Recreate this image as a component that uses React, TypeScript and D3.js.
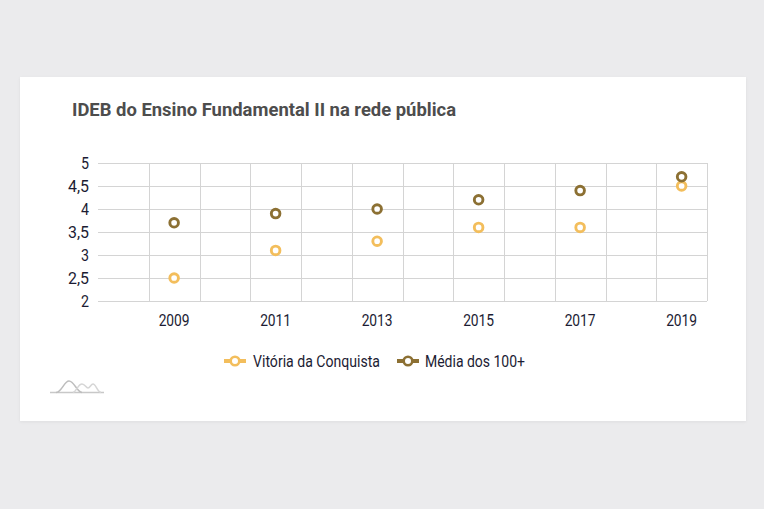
import React from "react";
import * as d3 from "d3";

const years = [2008, 2009, 2010, 2011, 2012, 2013, 2014, 2015, 2016, 2017, 2018, 2019];
const labelYears = [2009, 2011, 2013, 2015, 2017, 2019];
const dataYears = [2009, 2011, 2013, 2015, 2017, 2019];
const vitoria = [2.5, 3.1, 3.3, 3.6, 3.6, 4.5];
const media = [3.7, 3.9, 4.0, 4.2, 4.4, 4.7];
const yTicks = [2, 2.5, 3, 3.5, 4, 4.5, 5];
const seriesNames = ["Vitória da Conquista", "Média dos 100+"];
const seriesColors = ["#F3BE5C", "#8C7033"];

const W = 764;
const H = 509;

export default function App() {
  const x = d3.scaleBand<number>().domain(years).range([98, 707]).padding(0);
  const y = d3.scaleLinear().domain([2, 5]).range([301, 163]);
  const fmt = (v: number) => String(v).replace(".", ",");
  const font = "Roboto, 'Noto Sans', sans-serif";
  const series = [vitoria, media];

  return (
    <svg width={W} height={H} style={{ position: "absolute", left: 0, top: 0 }}>
      <defs>
        <filter id="sh" x="-5%" y="-5%" width="110%" height="115%">
          <feDropShadow dx="0" dy="1" stdDeviation="1.5" floodColor="#000" floodOpacity="0.06" />
        </filter>
      </defs>
      <rect x={0} y={0} width={W} height={H} fill="#EBEBED" />
      <rect x={20} y={77} width={726} height={344} fill="#FFFFFF" filter="url(#sh)" />
      <text x={72} y={116} fontFamily={font} fontWeight={700} fontSize={18.5} fill="#4D4D4D"
        textLength={384} lengthAdjust="spacingAndGlyphs">
        IDEB do Ensino Fundamental II na rede pública
      </text>
      {yTicks.map((t) => (
        <line key={"h" + t} x1={98} x2={707} y1={Math.round(y(t)) + 0.5} y2={Math.round(y(t)) + 0.5}
          stroke="#D4D4D4" strokeWidth={1} />
      ))}
      {years.map((yr) => {
        const xx = Math.round((x(yr) as number) + x.bandwidth()) + 0.5;
        return <line key={"v" + yr} x1={xx} x2={xx} y1={163} y2={301} stroke="#D4D4D4" strokeWidth={1} />;
      })}
      {yTicks.map((t) => (
        <text key={"yl" + t} x={89} y={y(t) + 5.5} textAnchor="end" fontFamily={font} fontSize={16}
          fill="#1C1C33" textLength={t % 1 === 0 ? 8 : 21} lengthAdjust="spacingAndGlyphs">
          {fmt(t)}
        </text>
      ))}
      {labelYears.map((yr) => (
        <text key={"xl" + yr} x={(x(yr) as number) + x.bandwidth() / 2} y={326} textAnchor="middle"
          fontFamily={font} fontSize={17} fill="#1C1C33" textLength={31} lengthAdjust="spacingAndGlyphs">
          {yr}
        </text>
      ))}
      {series.map((vals, si) =>
        vals.map((v, i) => (
          <circle key={si + "-" + i} cx={(x(dataYears[i]) as number) + x.bandwidth() / 2} cy={y(v)} r={4.3}
            fill="#FFFFFF" stroke={seriesColors[si]} strokeWidth={2.9} />
        ))
      )}
      {[
        { x0: 224, tx: 253, tw: 127 },
        { x0: 397, tx: 425, tw: 100 },
      ].map((l, i) => (
        <g key={"lg" + i}>
          <line x1={l.x0} x2={l.x0 + 22} y1={361} y2={361} stroke={seriesColors[i]} strokeWidth={4} />
          <circle cx={l.x0 + 11} cy={361} r={4.3} fill="#FFFFFF" stroke={seriesColors[i]} strokeWidth={2.6} />
          <text x={l.tx} y={367} fontFamily={font} fontSize={16} fill="#1C1C33" textLength={l.tw}
            lengthAdjust="spacingAndGlyphs">
            {seriesNames[i]}
          </text>
        </g>
      ))}
      <g fill="none" strokeWidth={1.5}>
        <line x1={50} x2={104} y1={392.5} y2={392.5} stroke="#C8C8C8" />
        <path d="M56,392.5 C62,392 64,381 69,381 C74,381 77,392 82,392.5" stroke="#BDBDBD" />
        <path d="M73,392.5 C77,391 78,384 82,384 C85,384 86,388 88,388 C90,388 91,384 93,384 C96,384 97,392 101,392.5" stroke="#D6D6D6" />
      </g>
    </svg>
  );
}
